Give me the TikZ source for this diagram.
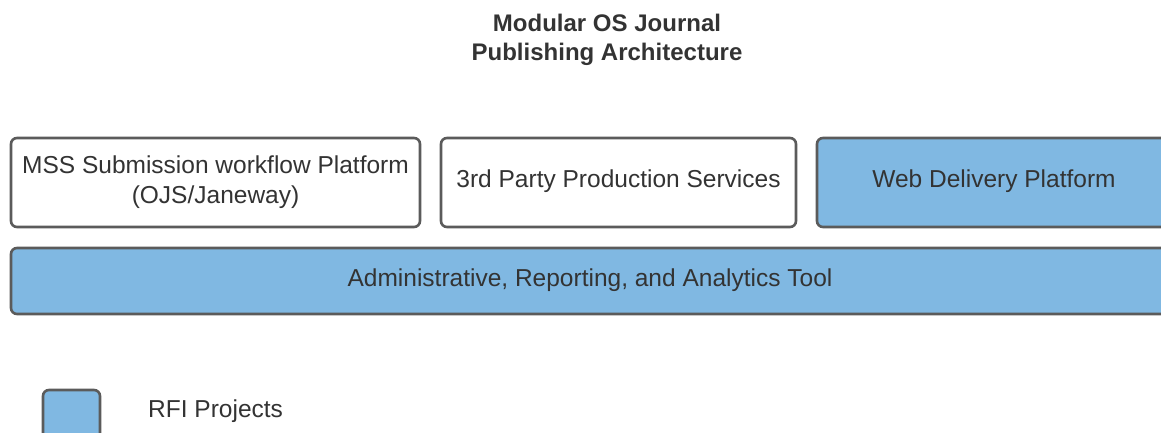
\documentclass[tikz,border=0pt]{standalone}
\usepackage{fontspec}
\setmainfont{Liberation Sans}
\definecolor{rfiblue}{HTML}{80B8E2}
\definecolor{edgegray}{HTML}{5B5B5B}
\definecolor{txtgray}{HTML}{333333}
\begin{document}
\begin{tikzpicture}[x=1pt,y=-1pt,
  box/.style={draw=edgegray,line width=2.6pt,rounded corners=6pt,fill=white},
  bluebox/.style={box,fill=rfiblue},
  lbl/.style={text=txtgray,font=\fontsize{24.5}{30}\selectfont,align=center,inner sep=0pt},
  ttl/.style={text=txtgray,font=\bfseries\fontsize{24}{29}\selectfont,align=center,inner sep=0pt}]
\useasboundingbox (0,0) rectangle (1161,433);
\clip (0,0) rectangle (1161,433);
\node[ttl] (title) at (607,39.5) {Modular OS Journal\\Publishing Architecture};
\draw[box] (11,138) rectangle (420,227);
\node[lbl] (mss) at (215.5,182) {MSS Submission workflow Platform\\(OJS/Janeway)};
\draw[box] (441,138) rectangle (796,227);
\node[lbl] (prod) at (618.5,181) {3rd Party Production Services};
\draw[bluebox] (817,138) rectangle (1175,227);
\node[lbl] (web) at (994,181) {Web Delivery Platform};
\draw[bluebox] (11,248) rectangle (1175,314);
\node[lbl] (admin) at (590,280) {Administrative, Reporting, and Analytics Tool};
\draw[bluebox] (43,390) rectangle (100,445);
\node[lbl,anchor=west] (rfi) at (148,411) {RFI Projects};
\end{tikzpicture}
\end{document}
